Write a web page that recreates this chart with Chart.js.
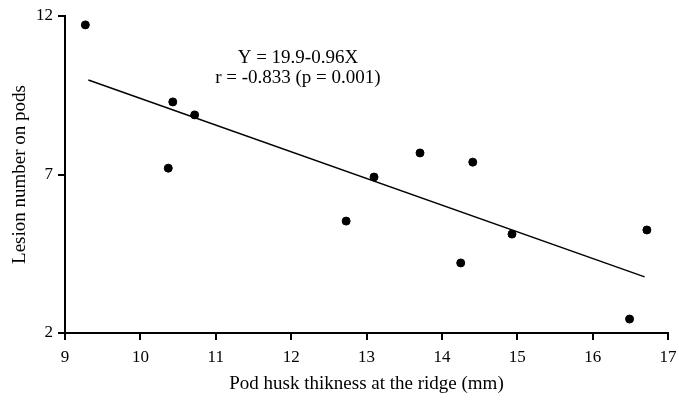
<!DOCTYPE html>
<html>
<head>
<meta charset="utf-8">
<script src="https://cdn.jsdelivr.net/npm/chart.js@4"></script>
<style>
  body { margin: 0; background: #fff; }
</style>
</head>
<body>
<canvas id="chart" width="679" height="404"></canvas>
<script>
// observed points (husk thickness mm, lesions per pod)
const huskX = [9.27, 10.43, 10.72, 10.37, 12.73, 13.10, 13.71, 14.41, 14.25, 14.93, 16.49, 16.72];
const lesionY = [11.72, 9.29, 8.88, 7.20, 5.53, 6.92, 7.68, 7.39, 4.21, 5.12, 2.44, 5.25];

// fitted line as drawn in the figure (end points)
const fitX = [9.31, 16.69];
const fitY = [9.98, 3.77];

const xTicks = [9, 10, 11, 12, 13, 14, 15, 16, 17];
const yTicks = [2, 7, 12];

const equationLines = ['Y = 19.9-0.96X', 'r = -0.833 (p = 0.001)'];

const serif = '"Liberation Serif", "Times New Roman", serif';

const scatter = huskX.map((x, i) => ({ x: x, y: lesionY[i] }));
const fit = fitX.map((x, i) => ({ x: x, y: fitY[i] }));

// equation text in the upper middle of the plot
const equationPlugin = {
  id: 'equation',
  afterDraw(chart) {
    const ctx = chart.ctx;
    const xs = chart.scales.x, ys = chart.scales.y;
    ctx.save();
    ctx.fillStyle = '#000';
    ctx.font = '19px ' + serif;
    ctx.textAlign = 'center';
    ctx.textBaseline = 'middle';
    ctx.fillText(equationLines[0], xs.getPixelForValue(12.09), ys.getPixelForValue(10.67));
    ctx.fillText(equationLines[1], xs.getPixelForValue(12.09), ys.getPixelForValue(10.04));
    ctx.restore();
  }
};

const axisGrid = {
  display: true,
  drawOnChartArea: false,
  drawTicks: true,
  tickLength: 7,
  color: '#000',
  lineWidth: 2
};
const axisBorder = { display: true, color: '#000', width: 2 };

new Chart(document.getElementById('chart').getContext('2d'), {
  type: 'scatter',
  data: {
    datasets: [
      {
        data: scatter,
        backgroundColor: '#000',
        borderColor: '#000',
        pointRadius: 4,
        pointHoverRadius: 4
      },
      {
        type: 'line',
        data: fit,
        borderColor: '#000',
        borderWidth: 1.5,
        pointRadius: 0,
        fill: false
      }
    ]
  },
  options: {
    responsive: false,
    animation: false,
    events: [],
    layout: { padding: { top: 16, right: 11, left: 0, bottom: 0 } },
    plugins: {
      legend: { display: false },
      tooltip: { enabled: false }
    },
    scales: {
      x: {
        type: 'linear',
        min: 9,
        max: 17,
        afterBuildTicks: (s) => { s.ticks = xTicks.map(v => ({ value: v })); },
        afterFit: (s) => { s.height = 71; s.paddingRight = 0; s.paddingLeft = 0; },
        ticks: { color: '#000', font: { family: serif, size: 17 }, padding: 7, maxRotation: 0 },
        grid: axisGrid,
        border: axisBorder,
        title: {
          display: true,
          text: 'Pod husk thikness at the ridge (mm)',
          color: '#000',
          font: { family: serif, size: 19 },
          padding: { top: 0, bottom: 9 }
        }
      },
      y: {
        type: 'linear',
        min: 2,
        max: 12,
        afterBuildTicks: (s) => { s.ticks = yTicks.map(v => ({ value: v })); },
        afterFit: (s) => { s.width = 65; s.paddingTop = 0; s.paddingBottom = 0; },
        ticks: { color: '#000', font: { family: serif, size: 17 }, padding: 5 },
        grid: axisGrid,
        border: axisBorder,
        title: {
          display: true,
          text: 'Lesion number on pods',
          color: '#000',
          font: { family: serif, size: 19 },
          padding: { top: 9, bottom: 0 }
        }
      }
    }
  },
  plugins: [equationPlugin]
});
</script>
</body>
</html>
